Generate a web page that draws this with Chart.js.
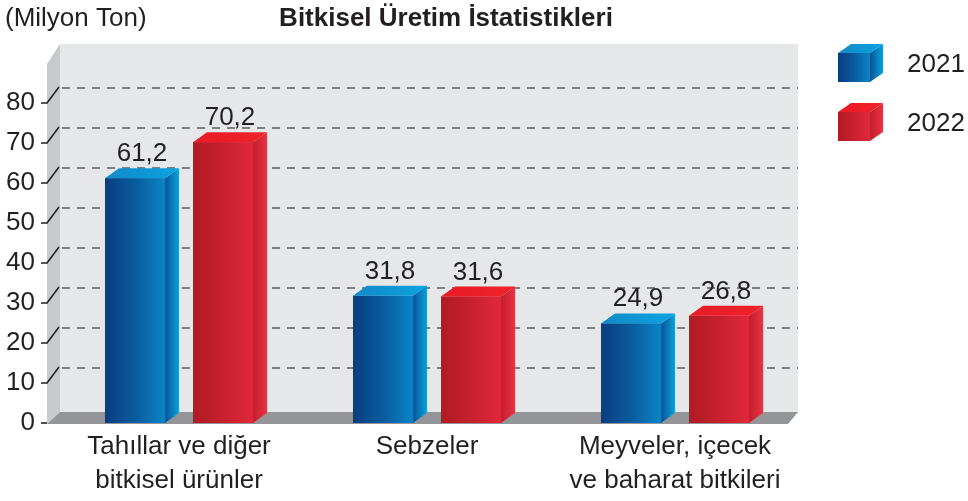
<!DOCTYPE html>
<html><head><meta charset="utf-8">
<script src="https://cdn.jsdelivr.net/npm/chart.js@4.4.1/dist/chart.umd.min.js"></script>
<style>html,body{margin:0;padding:0;background:#fff;}#wrap{width:968px;height:501px;}</style>
</head><body><div id="wrap"><canvas id="c" width="968" height="501"></canvas></div>
<script>
const categories = [["Tahıllar ve diğer", "bitkisel ürünler"], ["Sebzeler"], ["Meyveler, içecek", "ve baharat bitkileri"]];
const seriesNames = ["2021", "2022"];
const values2021 = [61.2, 31.8, 24.9];
const values2022 = [70.2, 31.6, 26.8];
const yTicks = [0, 10, 20, 30, 40, 50, 60, 70, 80];
const chartTitle = "Bitkisel Üretim İstatistikleri";
const unitLabel = "(Milyon Ton)";

const FONT = '"Liberation Sans", Arial, Helvetica, sans-serif';
const FS = 26;
const TXT = '#231f20';
const BDX = 14, BDY = 10;   // bar depth
const WDX = 13, WDY = 15;   // wall depth

const styles = [
  { front: ['#0a3c80', '#0a5c9f', '#0a84c6'], side: ['#0a5397', '#0aa2de'], top: ['#1489c8', '#0aa3df'], solid: '#0a64a8' },
  { front: ['#b01b22', '#c8202e', '#e2293e'], side: ['#c21e2c', '#ea3343'], top: ['#e81c26', '#f0222a'], solid: '#cc2030' }
];

function fmt(v) { return String(v).replace('.', ','); }

function poly(ctx, pts, fill) {
  ctx.beginPath();
  ctx.moveTo(pts[0][0], pts[0][1]);
  for (let i = 1; i < pts.length; i++) ctx.lineTo(pts[i][0], pts[i][1]);
  ctx.closePath();
  ctx.fillStyle = fill;
  ctx.fill();
}
function hgrad(ctx, x0, x1, stops) {
  const g = ctx.createLinearGradient(x0, 0, x1, 0);
  stops.forEach((c, i) => g.addColorStop(i / (stops.length - 1), c));
  return g;
}
function cube(ctx, l, t, w, h, dx, dy, st) {
  const r = l + w, b = t + h;
  ctx.fillStyle = hgrad(ctx, l, r, st.front);
  ctx.fillRect(l, t, w, h);
  poly(ctx, [[r, t], [r + dx, t - dy], [r + dx, b - dy], [r, b]], hgrad(ctx, r, r + dx, st.side));
  poly(ctx, [[l, t], [l + dx, t - dy], [r + dx, t - dy], [r, t]], hgrad(ctx, l, r + dx, st.top));
}

const threeD = {
  id: 'threeD',
  beforeDatasetsDraw(chart) {
    const { ctx, chartArea: a, scales: { y } } = chart;
    const left = a.left - 8;
    const right = a.right - 1;
    const bottom = y.getPixelForValue(0);
    const top = a.top;
    ctx.save();
    ctx.fillStyle = '#e6e7e8';
    ctx.fillRect(left + WDX, top - 19, right - (left + WDX), (bottom - 11) - (top - 19));
    poly(ctx, [[left, top + 1], [left + WDX, top - 19], [left + WDX, bottom - 11], [left, bottom + 1]], '#c8c9cb');
    poly(ctx, [[left, bottom + 1], [left + WDX, bottom - 11], [right, bottom - 11], [right - 10, bottom + 1]], '#939598');
    ctx.strokeStyle = '#7d7f82';
    ctx.lineWidth = 2;
    ctx.setLineDash([8, 7]);
    yTicks.forEach(v => {
      if (v === 0) return;
      const yy = Math.round(y.getPixelForValue(v) - WDY);
      ctx.beginPath();
      ctx.moveTo(left + WDX + 2, yy);
      ctx.lineTo(right, yy);
      ctx.stroke();
    });
    ctx.setLineDash([]);
    ctx.strokeStyle = TXT;
    ctx.lineWidth = 1.6;
    yTicks.forEach(v => {
      const yy = y.getPixelForValue(v);
      ctx.beginPath();
      ctx.moveTo(left - 6, yy);
      ctx.lineTo(left, yy);
      if (v !== 0) ctx.lineTo(left + WDX - 1, yy - WDY - 1);
      ctx.stroke();
    });
    ctx.restore();
  },
  afterDatasetsDraw(chart) {
    const { ctx } = chart;
    ctx.save();
    chart.data.datasets.forEach((ds, di) => {
      const meta = chart.getDatasetMeta(di);
      const st = styles[di];
      meta.data.forEach((bar, i) => {
        const p = bar.getProps(['x', 'y', 'base', 'width'], true);
        const l = p.x - p.width / 2;
        cube(ctx, l, p.y, p.width, p.base - p.y, BDX, BDY, st);
        ctx.fillStyle = TXT;
        ctx.font = FS + 'px ' + FONT;
        ctx.textAlign = 'center';
        ctx.textBaseline = 'alphabetic';
        ctx.fillText(fmt(ds.data[i]), p.x + BDX / 2, p.y - 17);
      });
    });
    seriesNames.forEach((name, i) => {
      const t = 53 + i * 59;
      cube(ctx, 838, t, 32, 29, 13, 9, styles[i]);
      ctx.fillStyle = TXT;
      ctx.font = FS + 'px ' + FONT;
      ctx.textAlign = 'left';
      ctx.textBaseline = 'middle';
      ctx.fillText(name, 907, t + 12);
    });
    ctx.fillStyle = TXT;
    ctx.textBaseline = 'middle';
    ctx.textAlign = 'center';
    ctx.font = 'bold ' + FS + 'px ' + FONT;
    ctx.fillText(chartTitle, 446, 19);
    ctx.textAlign = 'left';
    ctx.font = FS + 'px ' + FONT;
    ctx.fillText(unitLabel, 5, 19);
    ctx.restore();
  }
};

new Chart(document.getElementById('c'), {
  type: 'bar',
  data: {
    labels: categories,
    datasets: [
      { label: seriesNames[0], data: values2021, backgroundColor: styles[0].solid, borderWidth: 0 },
      { label: seriesNames[1], data: values2022, backgroundColor: styles[1].solid, borderWidth: 0 }
    ]
  },
  options: {
    responsive: false,
    animation: false,
    devicePixelRatio: 1,
    layout: { padding: { left: 0, right: 169, top: 63, bottom: 0 } },
    categoryPercentage: 0.7097,
    barPercentage: 0.682,
    plugins: { legend: { display: false }, title: { display: false }, tooltip: { enabled: false } },
    scales: {
      x: {
        grid: { display: false, drawTicks: false },
        border: { display: false },
        ticks: { color: TXT, font: { family: FONT, size: FS, lineHeight: 1.3 }, padding: 7, maxRotation: 0, autoSkip: false },
        afterFit: s => { s.height = 78; }
      },
      y: {
        min: 0, max: 90,
        grid: { display: false, drawTicks: false },
        border: { display: false },
        afterBuildTicks: s => { s.ticks = yTicks.map(v => ({ value: v })); },
        ticks: { color: TXT, font: { family: FONT, size: FS }, padding: 20 },
        afterFit: s => { s.width = 55; }
      }
    }
  },
  plugins: [threeD]
});
</script>
</body></html>
